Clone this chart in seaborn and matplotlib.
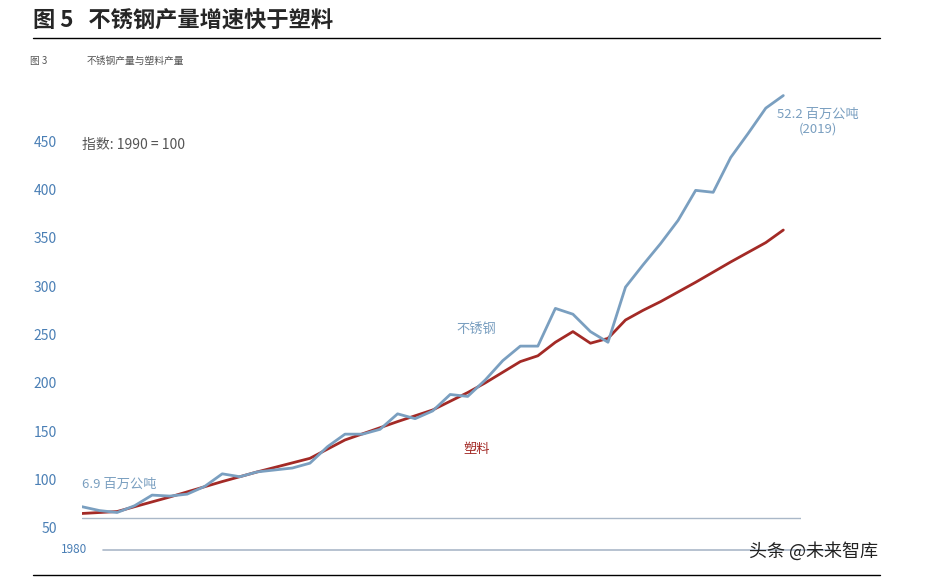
import matplotlib.pyplot as plt
import seaborn as sns
import pandas as pd

years = list(range(1980, 2021))
stainless = [72, 68, 66, 73, 84, 83, 85, 93, 106, 103, 108, 110, 112, 117, 134, 147, 147, 152,
             168, 163, 171, 188, 186, 203, 223, 238, 238, 277, 271, 253, 242, 299, 322, 344,
             368, 399, 397, 433, 458, 484, 497]
plastic_years = [1980, 1982, 1985, 1988, 1990, 1993, 1995, 1998, 2000, 2002, 2003, 2005, 2006,
                 2007, 2008, 2009, 2010, 2011, 2012, 2013, 2015, 2017, 2019, 2020]
plastic = [65, 67, 82, 98, 108, 122, 141, 160, 172, 190, 200, 222, 228, 242, 253, 241, 246,
           265, 275, 284, 304, 325, 345, 358]
yticks = [50, 100, 150, 200, 250, 300, 350, 400, 450]

df_s = pd.DataFrame({"year": years, "value": stainless})
df_p = pd.DataFrame({"year": plastic_years, "value": plastic})

sns.set_style("white")
plt.rcParams['font.family'] = ['Noto Sans CJK SC', 'DejaVu Sans']

blue = "#7a9fc0"
red = "#a32a26"
fig = plt.figure(figsize=(9.36, 5.82), dpi=100)
ax = fig.add_axes([0.0876, 0.0928, 0.768, 0.748])
sns.lineplot(data=df_p, x="year", y="value", ax=ax, color=red, linewidth=2)
sns.lineplot(data=df_s, x="year", y="value", ax=ax, color=blue, linewidth=2)
ax.set_xlim(1980, 2021)
ax.set_ylim(50, 500)
ax.axhline(60, color="#aab8c8", linewidth=1)
for s in ax.spines.values():
    s.set_visible(False)
ax.set_xticks([])
ax.set_yticks(yticks)
ax.set_yticklabels([str(t) for t in yticks], color="#4a7fb5", fontsize=10)
ax.tick_params(axis="y", length=0, pad=18)
ax.set_xlabel("")
ax.set_ylabel("")

ax.text(1980, 446, "指数: 1990 = 100", fontsize=10, color="#555555", va="center")
ax.text(1980, 92, "6.9 百万公吨", fontsize=9.5, color=blue)
ax.text(2022, 470, "52.2 百万公吨\n(2019)", fontsize=9.5, color=blue, ha="center", va="center")
ax.text(2002.5, 252, "不锈钢", fontsize=9.5, color=blue, ha="center")
ax.text(2002.5, 127, "塑料", fontsize=9.5, color=red, ha="center")

fig.text(0.035, 0.965, "图 5   不锈钢产量增速快于塑料", fontsize=16, fontweight="bold", va="center")
fig.add_artist(plt.Line2D([0.035, 0.94], [0.935, 0.935], color="black", linewidth=1))
fig.add_artist(plt.Line2D([0.035, 0.94], [0.012, 0.012], color="black", linewidth=1))
fig.text(0.032, 0.89, "图 3", fontsize=7, color="#555555")
fig.text(0.092, 0.89, "不锈钢产量与塑料产量", fontsize=7, color="#555555", style="italic")
fig.add_artist(plt.Line2D([0.11, 0.89], [0.055, 0.055], color="#aab8c8", linewidth=1.2))
fig.text(0.065, 0.055, "1980", fontsize=8.5, color="#4a7fb5", va="center")
fig.text(0.8, 0.052, "头条 @未来智库", fontsize=13, color="#222222", va="center")

fig.savefig("out.png", dpi=100)
